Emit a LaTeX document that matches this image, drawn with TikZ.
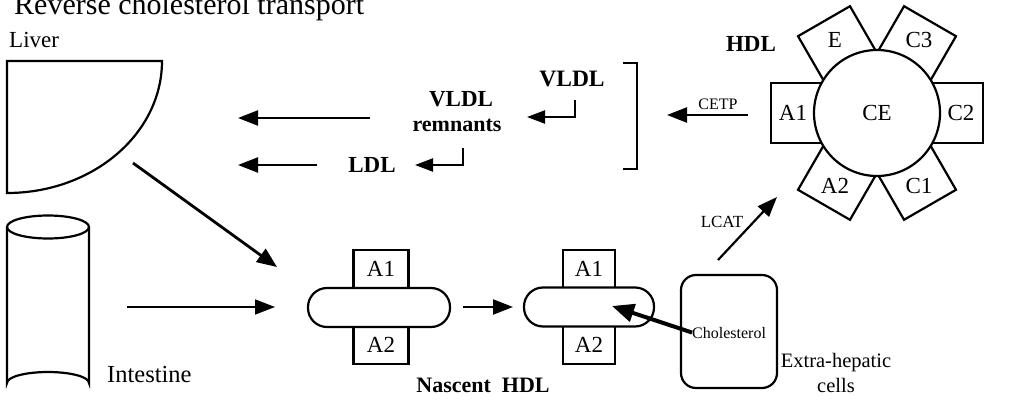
\documentclass[tikz,border=0pt]{standalone}
\usepackage{fontspec}
\setmainfont{Liberation Serif}
\usetikzlibrary{arrows.meta}
\begin{document}
\begin{tikzpicture}[x=1pt,y=-1pt,
  lbl/.style={inner sep=0pt, font=\fontsize{23}{27}\selectfont},
  boldlbl/.style={inner sep=0pt, font=\fontsize{23}{27}\selectfont\bfseries},
  small/.style={inner sep=0pt, font=\fontsize{16}{19}\selectfont},
  outline/.style={draw, line width=2.2pt},
  flow/.style={line width=2.2pt, -{Triangle[length=20pt,width=15pt]}},
  apo/.style={outline, minimum width=55pt, minimum height=38pt, inner sep=0pt, lbl},
  capsule/.style={outline, fill=white, minimum height=39pt, rounded corners=19pt, inner sep=0pt},
]
\useasboundingbox (0,0) rectangle (1011,406);

% heading (runs past the top edge)
\node[anchor=base west, inner sep=0pt, font=\fontsize{30}{36}\selectfont] (title) at (14,15) {Reverse cholesterol transport};

% liver
\node[lbl, anchor=base west] (liverlbl) at (9,48) {Liver};
\draw[outline] (7,61) -- (162,61) arc[start angle=0, end angle=90, x radius=155, y radius=132] -- cycle;

% intestine
\draw[outline] (7,227) -- (7,383) arc[start angle=180, end angle=360, x radius=41, y radius=11] -- (89,227);
\draw[outline] (48,227) ellipse[x radius=41, y radius=11.5];
\node[lbl, font=\fontsize{24.5}{29}\selectfont, anchor=base west] (intlbl) at (107,382) {Intestine};

% lipoprotein cascade
\node[boldlbl, font=\fontsize{23.5}{28}\selectfont\bfseries, anchor=base] (vldl) at (572,87) {VLDL};
\node[boldlbl, anchor=base] (rem1) at (461,107) {VLDL};
\node[boldlbl, font=\fontsize{22}{26}\selectfont\bfseries, anchor=base] (rem2) at (457,132) {remnants};
\node[boldlbl, anchor=base] (ldl) at (372,172) {LDL};

\coordinate (b1s) at (575,100);
\coordinate (b1e) at (527,117);
\coordinate (b2s) at (463,148);
\coordinate (b2e) at (415,165);
\draw[line width=2.2pt, -{Triangle[length=18pt,width=13pt]}] (b1s) |- (b1e);
\draw[line width=2.2pt, -{Triangle[length=18pt,width=13pt]}] (b2s) |- (b2e);

\coordinate (r1s) at (370,118);
\coordinate (r1e) at (238,118);
\coordinate (r2s) at (317,165);
\coordinate (r2e) at (238,165);
\draw[flow] (r1s) -- (r1e);
\draw[flow] (r2s) -- (r2e);

% bracket grouping the apoB particles
\draw[outline] (623,63) -- (637,63) -- (637,169) -- (623,169);

% CETP transfer
\coordinate (cetps) at (748,115);
\coordinate (cetpe) at (667,115);
\draw[flow] (cetps) -- (cetpe);
\node[small, anchor=base] (cetp) at (718,110) {CETP};

% mature HDL with its apolipoproteins
\node[boldlbl, anchor=base] (hdl) at (751,52) {HDL};
\foreach \a/\t in {0/C2,60/C3,120/E,180/A1,240/A2,300/C1}{
  \begin{scope}[shift={(877,113)}, rotate=\a]
    \draw[outline, fill=white] (30,-30) rectangle (106,30);
    \node[lbl] (hdl\t) at (84,0) {\t};
  \end{scope}
}
\node[outline, circle, fill=white, minimum size=126pt, lbl] (ce) at (877,113) {CE};

% nascent HDL particles
\node[apo] (n1a1) at (381,269) {A1};
\node[apo] (n1a2) at (381,345) {A2};
\node[capsule, minimum width=142pt] (n1) at (379,307.5) {};
\node[apo, minimum width=52pt] (n2a1) at (589,269) {A1};
\node[apo, minimum width=52pt] (n2a2) at (589,345) {A2};
\node[capsule, minimum width=130pt] (n2) at (589,307) {};
\node[boldlbl, font=\fontsize{22}{26}\selectfont\bfseries, anchor=base] (nascent) at (483,392) {Nascent\ \ HDL};

% arrows feeding nascent HDL
\coordinate (ls) at (133,163);
\coordinate (le) at (277,267);
\draw[line width=2.8pt, -{Triangle[length=20pt,width=16pt]}] (ls) -- (le);
\coordinate (is) at (127,307);
\coordinate (ie) at (275,307);
\draw[line width=1.6pt, -{Triangle[length=20pt,width=15pt]}] (is) -- (ie);
\coordinate (ns) at (463,307);
\coordinate (ne) at (513,307);
\draw[flow] (ns) -- (ne);

% LCAT maturation
\coordinate (lcs) at (718,260);
\coordinate (lce) at (777,197);
\draw[flow] (lcs) -- (lce);
\node[small, font=\fontsize{17}{20}\selectfont, anchor=base] (lcat) at (722,227) {LCAT};

% extra-hepatic cell releasing cholesterol
\node[outline, rounded corners=15pt, minimum width=96pt, minimum height=113pt] (cell) at (729,331.5) {};
\node[small, anchor=base west] (chol) at (692,338) {Cholesterol};
\coordinate (ce1) at (612,306);
\draw[line width=4pt, -{Triangle[length=22pt,width=18pt]}] (chol.west) -- (ce1);
\node[lbl, font=\fontsize{20.5}{25}\selectfont, anchor=base] (extra) at (836,367) {Extra-hepatic};
\node[lbl, font=\fontsize{20.5}{25}\selectfont, anchor=base] (cells) at (836,392) {cells};
\end{tikzpicture}
\end{document}
